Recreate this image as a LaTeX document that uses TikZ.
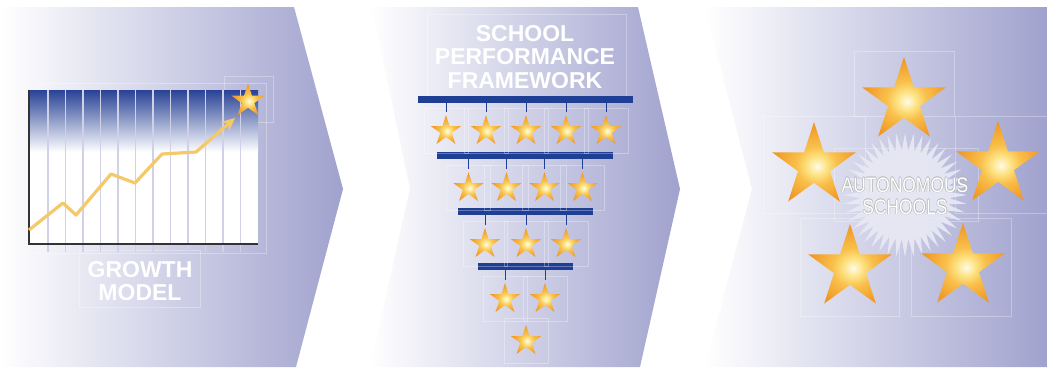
\documentclass[tikz,border=0pt]{standalone}
\usepackage{fontspec}
\setmainfont{Liberation Sans}
\usetikzlibrary{shapes.geometric,arrows.meta}
\definecolor{lav}{RGB}{160,162,206}
\definecolor{chartblue}{RGB}{40,66,150}
\definecolor{barblue}{RGB}{30,63,148}
\definecolor{gridline}{RGB}{208,208,232}
\definecolor{growth}{RGB}{245,200,105}
\definecolor{burst}{RGB}{232,233,244}
\pgfdeclareradialshading{starglow}{\pgfpoint{2bp}{-3bp}}{color(0bp)=(rgb,255:red,255;green,251;blue,230);
  color(6bp)=(rgb,255:red,253;green,226;blue,130); color(12bp)=(rgb,255:red,249;green,192;blue,75);
  color(25bp)=(rgb,255:red,240;green,152;blue,38); color(50bp)=(rgb,255:red,240;green,152;blue,38)}

\begin{document}
\begin{tikzpicture}
[x=1pt,y=-1pt,
 chev/.style={left color=white,right color=lav,draw=none},
 ghost/.style={draw=white,opacity=.3,line width=.5pt},
 gold/.style={star,star points=5,star point ratio=2.618,inner sep=0pt,shading=starglow,draw=none},
 barline/.style={rectangle,fill=barblue,inner sep=0pt,minimum height=7pt},
 pin/.style={draw=barblue,line width=1pt,shorten >=2pt},
 heading/.style={text=white,font=\bfseries\fontsize{23}{23.5}\selectfont,align=center,inner sep=0pt},
 burstText/.style={font=\fontsize{21}{22}\selectfont,align=center,inner sep=0pt,xscale=.83}]
\useasboundingbox (0,0) rectangle (1047,367);
\fill[white] (0,0) rectangle (1047,367);
% three chevrons
\path[chev] (0,7) -- (294,7) -- (343,189) -- (296,367) -- (0,367) -- cycle;
\path[chev] (372,7) -- (638,7) -- (680,189) -- (640,367) -- (370,367) -- (410,189) -- cycle;
\path[chev] (705,7) -- (1047,7) -- (1047,367) -- (705,367) -- (752,189) -- cycle;
% faint frames
\foreach \xa/\ya/\xb/\yb in {20/83/266/253,224/76/273/122,79/250/200/307,427/14/626/97,
  854/51/954/116,763/116/865/213,955/116/1047/213,800/218/899/316,911/218/1011/316,834/148/978/221}
\draw[ghost] (\xa,\ya) rectangle (\xb,\yb);

% growth chart
\fill[white] (29,90) rectangle (258,244);
\shade[top color=chartblue,bottom color=white] (29,90) rectangle (258,152);
\foreach \k in {0,...,11}
\draw[gridline,line width=1.2pt] (48+17.5*\k,90) -- (48+17.5*\k,252);
\draw[black!80,line width=1.2pt] (29,90) -- (29,244) -- (258,244);
\draw[growth,line width=3.2pt,line join=round,-{Stealth[length=13pt,width=12pt,inset=4pt]}]
  (29,230) -- (63,203) -- (76,215) -- (111,174) -- (135,183) -- (162,154) -- (196,152) -- (235,118);
\node[gold,minimum size=35] (top) at (248,101) {};
\node[heading] (growthmodel) at (140,281) {GROWTH\\MODEL};

% school performance framework
\node[heading] (spf) at (525,57) {SCHOOL\\PERFORMANCE\\FRAMEWORK};
\node[barline,minimum width=215] (bar1) at (525.5,99) {};
\node[barline,minimum width=176] (bar2) at (525,155) {};
\node[barline,minimum width=135] (bar3) at (525.5,211) {};
\node[barline,minimum width=95] (bar4) at (525.5,266.5) {};
\node[gold,minimum size=32] (a1) at (446,131) {};
\node[gold,minimum size=32] (a2) at (486,131) {};
\node[gold,minimum size=32] (a3) at (526,131) {};
\node[gold,minimum size=32] (a4) at (566,131) {};
\node[gold,minimum size=32] (a5) at (606,131) {};
\node[gold,minimum size=32] (b1) at (468.5,188) {};
\node[gold,minimum size=32] (b2) at (506.5,188) {};
\node[gold,minimum size=32] (b3) at (544.5,188) {};
\node[gold,minimum size=32] (b4) at (582.5,188) {};
\node[gold,minimum size=32] (c1) at (485,244) {};
\node[gold,minimum size=32] (c2) at (526,244) {};
\node[gold,minimum size=32] (c3) at (566,244) {};
\node[gold,minimum size=32] (d1) at (505,299) {};
\node[gold,minimum size=32] (d2) at (545,299) {};
\node[gold,minimum size=32] (e1) at (526,341) {};
\foreach \s in {a1,a2,a3,a4,a5,b1,b2,b3,b4,c1,c2,c3,d1,d2,e1}
\draw[ghost] ([shift={(-22,-23)}]\s.center) rectangle ([shift={(22,22)}]\s.center);
\foreach \from/\to in {bar1/a1,bar1/a2,bar1/a3,bar1/a4,bar1/a5,bar2/b1,bar2/b2,bar2/b3,bar2/b4,
  bar3/c1,bar3/c2,bar3/c3,bar4/d1,bar4/d2}
\draw[pin] (\to.north |- \from.south) -- (\to.north);

% autonomous schools
\node[star,star points=44,star point ratio=1.4,minimum size=124,inner sep=0pt,fill=burst,fill opacity=.92] (burst) at (905,195) {};
\node[gold,minimum size=88] (n1) at (904,101) {};
\node[gold,minimum size=88] (n2) at (814,166) {};
\node[gold,minimum size=88] (n3) at (998,165) {};
\node[gold,minimum size=88] (n4) at (850,268) {};
\node[gold,minimum size=88] (n5) at (963,267) {};
\foreach \dx/\dy in {-.6/0,.6/0,0/-.6,0/.6}
\node[burstText,text=black!30] at (905+\dx,196+\dy) {AUTONOMOUS\\SCHOOLS};
\node[burstText,text=white] (auton) at (905,196) {AUTONOMOUS\\SCHOOLS};
\end{tikzpicture}
\end{document}
